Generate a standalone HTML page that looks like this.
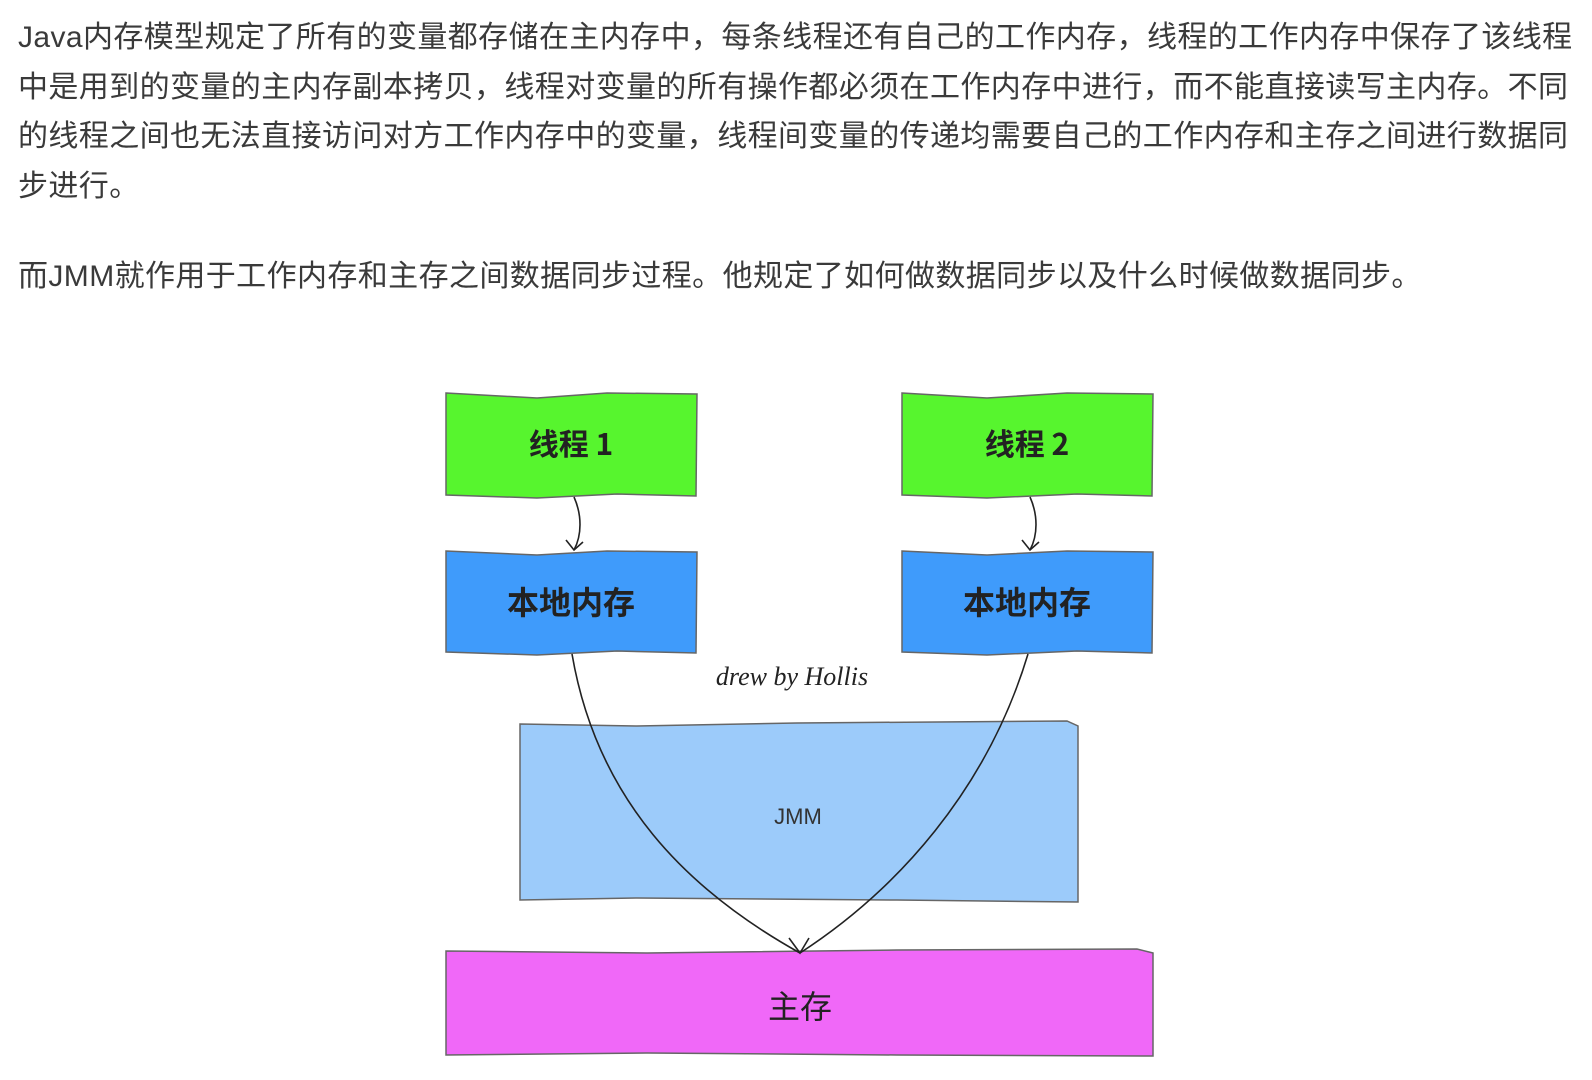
<!DOCTYPE html>
<html><head><meta charset="utf-8"><style>
html,body{margin:0;padding:0;background:#fff;width:1592px;height:1080px;overflow:hidden}
.t{position:absolute;left:18px;font-family:"Liberation Sans","Noto Sans CJK SC",sans-serif;font-size:30px;letter-spacing:0.4px;color:#3a3a3a;white-space:nowrap;line-height:32px}
</style></head><body>
<div class="t" style="top:22px">Java内存模型规定了所有的变量都存储在主内存中，每条线程还有自己的工作内存，线程的工作内存中保存了该线程</div>
<div class="t" style="top:72px">中是用到的变量的主内存副本拷贝，线程对变量的所有操作都必须在工作内存中进行，而不能直接读写主内存。不同</div>
<div class="t" style="top:121px">的线程之间也无法直接访问对方工作内存中的变量，线程间变量的传递均需要自己的工作内存和主存之间进行数据同</div>
<div class="t" style="top:171px">步进行。</div>
<div class="t" style="top:261px">而JMM就作用于工作内存和主存之间数据同步过程。他规定了如何做数据同步以及什么时候做数据同步。</div>
<svg width="1592" height="1080" style="position:absolute;left:0;top:0" xmlns="http://www.w3.org/2000/svg">
<g transform="translate(-3,0)">
<g stroke="#666" stroke-width="1.5">
<polygon points="449,393 540,398 610,393 700,394 699,496 620,494 540,498 449,495" fill="#57f52e"/>
<polygon points="905,393 990,398 1070,393 1156,394 1155,496 1080,494 990,498 905,495" fill="#57f52e"/>
<polygon points="449,551 540,555 610,551 700,552 699,653 620,651 540,655 449,652" fill="#3f9bfb"/>
<polygon points="905,551 990,555 1070,551 1156,552 1155,653 1080,651 990,655 905,652" fill="#3f9bfb"/>
<polygon points="523,724 640,726 800,723 1070,721 1081,726 1081,902 900,900 640,898 523,900" fill="#9ccbfa"/>
<polygon points="449,951 650,953 900,950 1140,949 1156,953 1156,1056 900,1055 650,1053 449,1055" fill="#f068f8"/>
</g>
<g fill="none" stroke="#222" stroke-width="1.6">
<path d="M577,497 C585,515 585,535 577,550"/>
<path d="M569,540 L577,550 L586,542"/>
<path d="M1033,497 C1041,515 1041,535 1033,550"/>
<path d="M1025,540 L1033,550 L1042,542"/>
<path d="M575,654 C600,800 690,890 803,953"/>
<path d="M1031,654 C990,790 900,890 803,953"/>
<path d="M792,938 L803,953 L812,938"/>
</g>
<g font-family="Noto Sans CJK SC,sans-serif" font-weight="bold" fill="#222" text-anchor="middle">
<text x="574" y="455" font-size="30">线程 1</text>
<text x="1030" y="455" font-size="30">线程 2</text>
<text x="574" y="614" font-size="32">本地内存</text>
<text x="1030" y="614" font-size="32">本地内存</text>
<text x="803" y="1018" font-size="32" font-weight="normal">主存</text>
</g>
<text x="795" y="685" font-family="Liberation Serif,serif" font-style="italic" font-size="26" fill="#222" text-anchor="middle">drew by Hollis</text>
<text x="801" y="824" font-family="Liberation Sans,sans-serif" font-size="22" fill="#333" text-anchor="middle">JMM</text>
</g>
</svg>
</body></html>
